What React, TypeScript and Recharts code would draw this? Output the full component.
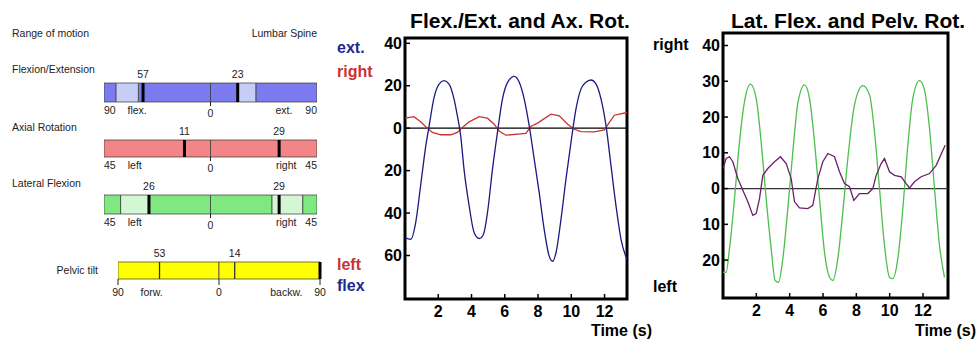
import React from 'react';
import {
  BarChart,
  Bar,
  LineChart,
  Line,
  XAxis,
  YAxis,
  ReferenceLine,
  ReferenceArea,
} from 'recharts';

// range of motion, lumbar spine (degrees, negative = flex / left / forw.)
const romNames = ['Flexion/Extension', 'Axial Rotation', 'Lateral Flexion', 'Pelvic tilt'];
const romMax = [90, 45, 45, 90];
const romMarkers = [[-57, 23], [-11, 29], [-26, 29], [-53, 14]];
const romNormal = [[[-80, -61], [23, 38.5]], [], [[-38, -26], [26, 39]], []];
const romEndWords = [['flex.', 'ext.'], ['left', 'right'], ['left', 'right'], ['forw.', 'backw.']];

// flexion / extension (blue) and axial rotation (red)
const flexExtTime = [0, 0.34, 0.64, 0.94, 1.25, 1.45, 1.75, 2.05, 2.35, 2.65, 2.95, 3.15, 3.35, 3.55, 3.86, 4.16, 4.46, 4.72, 4.96, 5.26, 5.56, 5.86, 6.17, 6.57, 6.87, 7.17, 7.47, 7.77, 8.07, 8.37, 8.67, 8.88, 9.08, 9.38, 9.68, 9.98, 10.28, 10.58, 10.88, 11.18, 11.49, 11.79, 12.09, 12.39, 12.69, 12.99, 13.35];
const flexExtAngle = [-51.7, -52.4, -44.6, -27, -8.3, 1, 14.5, 20.8, 22.4, 20.8, 13.7, 5.8, -3.6, -19.4, -36.7, -49.3, -52, -50, -39.8, -19.4, -2, 13.7, 21.6, 24.4, 21.6, 13.7, 1.1, -14.6, -30.4, -47.7, -60.3, -62.7, -58.7, -43, -24, -6.8, 9, 18.4, 21.6, 22.7, 20.8, 13.7, 1.1, -17.8, -36.7, -52.4, -61.9];
const axRotTime = [0, 0.54, 0.94, 1.35, 1.65, 2.15, 2.75, 3.15, 3.45, 3.86, 4.46, 4.96, 5.36, 5.66, 6.06, 6.77, 7.27, 7.57, 7.97, 8.78, 9.28, 9.78, 10.18, 10.58, 11.39, 11.99, 12.29, 12.59, 13.35];
const axRotAngle = [4.7, 5.4, 3, 0, -2, -3.1, -3.1, -2, 0.3, 3, 5.4, 4.7, 1.9, -1.3, -3.3, -2.8, -2.4, 0.8, 2.4, 6.6, 5.8, 1.9, -0.5, -1.6, -1.7, -0.8, 2.7, 6.1, 7.4];

// lateral flexion (green) and pelvic rotation (purple)
const latFlexTime = [0, 0.19, 0.39, 0.69, 0.99, 1.29, 1.65, 1.99, 2.29, 2.59, 2.89, 3.13, 3.33, 3.59, 3.89, 4.19, 4.49, 4.89, 5.19, 5.49, 5.79, 6.09, 6.39, 6.59, 6.89, 7.19, 7.49, 7.89, 8.39, 8.79, 9.09, 9.39, 9.69, 9.99, 10.19, 10.49, 10.79, 11.09, 11.39, 11.79, 12.09, 12.39, 12.69, 12.99, 13.29];
const latFlexAngle = [-23.4, -23.4, -16.8, -2.8, 13, 24.3, 29.2, 25.2, 13, -2.8, -16.8, -25.7, -26.2, -19.6, -5.6, 10.3, 23.8, 29, 25.2, 13, -2.8, -17.8, -24.8, -25.7, -19.6, -6.5, 8.4, 23.4, 28.8, 26.2, 15.9, 0, -15.9, -24.8, -25.2, -19.6, -5.6, 12.1, 25.2, 30.2, 27.6, 16.8, 0, -15.9, -24.8];
const pelvRotTime = [0, 0.19, 0.39, 0.59, 0.89, 1.19, 1.49, 1.79, 1.99, 2.19, 2.39, 2.69, 3.09, 3.45, 3.79, 4.09, 4.29, 4.59, 5.09, 5.39, 5.69, 5.99, 6.29, 6.69, 6.99, 7.29, 7.59, 7.85, 8.19, 8.69, 8.99, 9.19, 9.49, 9.69, 9.99, 10.29, 10.69, 10.99, 11.19, 11.49, 11.89, 12.39, 12.79, 13.33];
const pelvRotAngle = [5.6, 8.4, 8.9, 7.5, 2.8, -0.5, -3.7, -7.5, -7, -2.8, 3.7, 5.6, 7.5, 8.9, 7, 2.8, -3.7, -5.4, -5.6, -4.7, 2.8, 7.5, 9.8, 8.9, 4.7, 1.4, 0.5, -3.3, -1.4, -1.4, 0, 3.7, 7, 8.4, 4.7, 3.7, 3.3, 1.4, 0.2, 1.9, 3.3, 4.2, 6.5, 12.1];

const timeTicks = [2, 4, 6, 8, 10, 12];
const leftTicks = [-60, -40, -20, 0, 20, 40];
const rightTicks = [-20, -10, 0, 10, 20, 30, 40];

const zip = (t: number[], v: number[]) => t.map((x, i) => ({ t: x, v: v[i] }));

// look of each ROM row
const rowStyle = [
  { top: 83, h: 19, left: 104, right: 317, color: '#7b7bef', light: '#c6cdf7', word: 62, labelDy: 8, ends: 'edge', marker: 3, markerColor: '#000', drop: 4 },
  { top: 140, h: 17, left: 104, right: 317, color: '#f28585', light: '#f8c8c8', word: 32, labelDy: 8, ends: 'edge', marker: 3, markerColor: '#000', drop: 4 },
  { top: 195, h: 19, left: 104, right: 317, color: '#80e880', light: '#d2f7d2', word: 32, labelDy: 8, ends: 'edge', marker: 3, markerColor: '#000', drop: 4 },
  { top: 262, h: 17, left: 118, right: 320, color: '#ffff00', light: '#ffff99', word: 60, labelDy: 13, ends: 'center', marker: 1.3, markerColor: '#333', drop: 6 },
];

function segments(max: number, normal: number[][]) {
  const pts = Array.from(new Set([-max, 0, max, ...normal.flat()])).sort((a, b) => a - b);
  const segs = pts.slice(1).map((b, i) => {
    const a = pts[i];
    return { a, b, light: normal.some(([lo, hi]) => a >= lo && b <= hi) };
  });
  const neg = segs.filter((s) => s.b <= 0).sort((p, q) => q.b - p.b).map((s) => ({ w: s.a - s.b, light: s.light }));
  const pos = segs.filter((s) => s.a >= 0).sort((p, q) => p.a - q.a).map((s) => ({ w: s.b - s.a, light: s.light }));
  return [...neg, ...pos];
}

function RomRow({ i }: { i: number }) {
  const st = rowStyle[i];
  const max = romMax[i];
  const segs = segments(max, romNormal[i]);
  const row: Record<string, number | string> = { name: romNames[i] };
  segs.forEach((s, k) => (row['s' + k] = s.w));
  const ticks = [-max, -st.word, 0, st.word, max];
  const padTop = 22;
  const axisH = 22;

  const renderTick = (p: any) => {
    const v = p.payload.value;
    let label = String(Math.abs(v));
    let anchor: 'start' | 'middle' | 'end' = 'middle';
    if (v === -st.word) label = romEndWords[i][0];
    if (v === st.word) label = romEndWords[i][1];
    if (st.ends === 'edge' && v === -max) anchor = 'start';
    if (st.ends === 'edge' && v === max) anchor = 'end';
    const dy = st.labelDy + (v === 0 && st.ends === 'edge' ? 3 : 0);
    const mark = v === 0 || (st.ends === 'center' && Math.abs(v) === max);
    return (
      <g>
        {mark && <line x1={p.x} x2={p.x} y1={p.y} y2={p.y + st.drop} stroke="#222" strokeWidth={1} />}
        <text x={p.x} y={p.y + dy} textAnchor={anchor} dominantBaseline="central" fontSize={10.5} fill="#222">
          {label}
        </text>
      </g>
    );
  };

  return (
    <div style={{ position: 'absolute', left: 0, top: st.top - padTop }}>
      <BarChart
        width={330}
        height={padTop + st.h + axisH}
        data={[row]}
        layout="vertical"
        stackOffset="sign"
        barCategoryGap={0}
        margin={{ top: padTop, right: 330 - st.right, bottom: 0, left: st.left }}
      >
        <XAxis
          type="number"
          domain={[-max, max]}
          allowDataOverflow
          ticks={ticks}
          interval={0}
          height={axisH}
          axisLine={false}
          tickLine={false}
          tickSize={0}
          tickMargin={0}
          tick={renderTick}
        />
        <YAxis type="category" dataKey="name" hide />
        {segs.map((s, k) => (
          <Bar
            key={k}
            dataKey={'s' + k}
            stackId="rom"
            fill={s.light ? st.light : st.color}
            stroke="#333"
            strokeWidth={0.7}
            isAnimationActive={false}
          />
        ))}
        {st.ends === 'center' && <ReferenceLine x={max} stroke="#000" strokeWidth={3} />}
        {romMarkers[i].map((m) => (
          <ReferenceLine
            key={m}
            x={m}
            stroke={st.markerColor}
            strokeWidth={st.marker}
            label={{ value: String(Math.abs(m)), position: 'top', offset: 5, fontSize: 10.5, fill: '#222' }}
          />
        ))}
      </BarChart>
    </div>
  );
}

const tickFont = { fill: '#000', fontSize: 16, fontWeight: 'bold' as const };

function TimeChart(props: {
  left: number;
  width: number;
  margin: { top: number; right: number; bottom: number; left: number };
  xMax: number;
  yDomain: [number, number];
  yTicks: number[];
  zeroColor: string;
  series: { data: { t: number; v: number }[]; color: string; type: 'linear' | 'monotone' }[];
}) {
  const { left, width, margin, xMax, yDomain, yTicks, zeroColor, series } = props;
  return (
    <div style={{ position: 'absolute', left, top: 0 }}>
      <LineChart width={width} height={343} margin={margin}>
        <XAxis
          type="number"
          dataKey="t"
          domain={[0, xMax]}
          allowDataOverflow
          ticks={timeTicks}
          interval={0}
          height={30}
          axisLine={false}
          tickSize={-5}
          tickMargin={12}
          tickLine={{ stroke: '#000', strokeWidth: 1.5 }}
          tick={tickFont}
        />
        <YAxis
          type="number"
          domain={yDomain}
          allowDataOverflow
          ticks={yTicks}
          interval={0}
          width={40}
          axisLine={false}
          tickSize={-5}
          tickMargin={8}
          tickLine={{ stroke: '#000', strokeWidth: 1.5 }}
          tick={tickFont}
          tickFormatter={(v: number) => String(Math.abs(v))}
        />
        <ReferenceLine y={0} stroke={zeroColor} strokeWidth={1.2} />
        {series.map((s, k) => (
          <Line
            key={k}
            data={s.data}
            dataKey="v"
            type={s.type}
            stroke={s.color}
            strokeWidth={1.3}
            dot={false}
            isAnimationActive={false}
          />
        ))}
        <ReferenceArea x1={0} x2={xMax} y1={yDomain[0]} y2={yDomain[1]} fill="none" stroke="#000" strokeWidth={3} />
      </LineChart>
    </div>
  );
}

const blue = '#1f2a8e';
const red = '#c83232';

export default function App() {
  const txt = { fontFamily: 'Liberation Sans, Arial, sans-serif' };
  return (
    <div style={{ position: 'absolute', left: 0, top: 0, width: 978, height: 343, background: '#fff', overflow: 'hidden', ...txt }}>
      <svg width={978} height={343} style={{ position: 'absolute', left: 0, top: 0 }}>
        <g fontSize={10.5} fill="#222" dominantBaseline="central">
          <text x={12} y={33}>Range of motion</text>
          <text x={317} y={33} textAnchor="end">Lumbar Spine</text>
          <text x={12} y={69}>{romNames[0]}</text>
          <text x={12} y={127}>{romNames[1]}</text>
          <text x={12} y={183}>{romNames[2]}</text>
          <text x={98} y={270} textAnchor="end">{romNames[3]}</text>
        </g>
        <g fontWeight="bold" dominantBaseline="central">
          <text x={520} y={20} fontSize={21} textAnchor="middle" fill="#000">Flex./Ext. and Ax. Rot.</text>
          <text x={848} y={20} fontSize={21} textAnchor="middle" fill="#000">Lat. Flex. and Pelv. Rot.</text>
          <text x={337} y={47} fontSize={16} fill={blue}>ext.</text>
          <text x={337} y={71} fontSize={16} fill={red}>right</text>
          <text x={337} y={264} fontSize={16} fill={red}>left</text>
          <text x={337} y={285} fontSize={16} fill={blue}>flex</text>
          <text x={653} y={44} fontSize={16} fill="#000">right</text>
          <text x={653} y={286} fontSize={16} fill="#000">left</text>
          <text x={652} y={330} fontSize={16} textAnchor="end" fill="#000">Time (s)</text>
          <text x={976} y={330} fontSize={16} textAnchor="end" fill="#000">Time (s)</text>
        </g>
      </svg>
      {romNames.map((_, i) => (
        <RomRow key={i} i={i} />
      ))}
      <TimeChart
        left={330}
        width={330}
        margin={{ top: 38, right: 33, bottom: 14, left: 35 }}
        xMax={13.35}
        yDomain={[-80.5, 42.5]}
        yTicks={leftTicks}
        zeroColor="#000"
        series={[
          { data: zip(axRotTime, axRotAngle), color: red, type: 'linear' },
          { data: zip(flexExtTime, flexExtAngle), color: '#1a1a80', type: 'monotone' },
        ]}
      />
      <TimeChart
        left={650}
        width={328}
        margin={{ top: 33, right: 30, bottom: 15, left: 33 }}
        xMax={13.5}
        yDomain={[-30.6, 43.5]}
        yTicks={rightTicks}
        zeroColor="#333"
        series={[
          { data: zip(latFlexTime, latFlexAngle), color: '#4cbf4c', type: 'monotone' },
          { data: zip(pelvRotTime, pelvRotAngle), color: '#6c1f6c', type: 'linear' },
        ]}
      />
    </div>
  );
}
